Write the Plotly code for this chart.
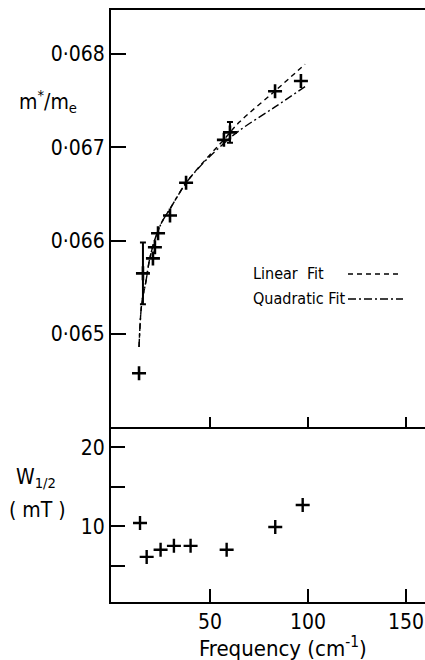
import plotly.graph_objects as go

# ---- data ----
freq_m = [13.8, 15.8, 20.9, 21.9, 23.5, 29.6, 37.8, 57.1, 60.2, 83.2, 96.4]
mass_ratio = [0.06458, 0.06565, 0.06581, 0.06593, 0.06608, 0.06627, 0.06662,
              0.06708, 0.06716, 0.06760, 0.06771]
mass_err = [0, 0.00033, 0, 0, 0, 0, 0, 0, 0.00011, 0, 0]

lin_fit_f = [13.8, 15.2, 17.2, 19.4, 22.8, 26.0, 29.6, 33.0, 37.8, 47.4, 57.0, 65.0, 83.0, 98.5]
lin_fit_m = [0.06486, 0.06533, 0.06555, 0.06582, 0.06607, 0.06622, 0.06634, 0.06646,
             0.06662, 0.06686, 0.06708, 0.06727, 0.06760, 0.06789]
quad_fit_f = [13.8, 15.2, 17.2, 19.4, 22.8, 26.0, 29.6, 33.0, 37.8, 47.4, 57.0, 65.0, 83.0, 98.5]
quad_fit_m = [0.06486, 0.06533, 0.06555, 0.06582, 0.06607, 0.06622, 0.06634, 0.06646,
              0.06662, 0.06685, 0.06704, 0.06718, 0.06743, 0.06765]

freq_w = [14.3, 17.7, 24.8, 31.6, 40.1, 58.5, 83.3, 97.3]
width_w = [10.4, 6.1, 7.0, 7.5, 7.5, 7.0, 9.9, 12.7]

m_ticks = [0.065, 0.066, 0.067, 0.068]
m_ticktext = ["0·065", "0·066", "0·067", "0·068"]
w_ticks = [5, 10, 15, 20]
w_ticktext = ["", "10", "", "20"]
x_ticks = [50, 100, 150]
x_ticktext = ["50", "100", "150"]

FONT = "DejaVu Sans Condensed, Liberation Sans Narrow, DejaVu Sans, sans-serif"
W_PX, H_PX = 425, 660
ML, MR, MT, MB = 111, 0, 10, 58
split = (602 - 427) / (H_PX - MT - MB)

fig = go.Figure()

# fits (upper panel)
fig.add_trace(go.Scatter(x=lin_fit_f, y=lin_fit_m, mode="lines", line_shape="spline",
                         line=dict(color="black", width=1.4, dash="5px,4px"),
                         xaxis="x2", yaxis="y2", showlegend=False, hoverinfo="skip"))
fig.add_trace(go.Scatter(x=quad_fit_f, y=quad_fit_m, mode="lines", line_shape="spline",
                         line=dict(color="black", width=1.4, dash="8px,3px,2px,3px"),
                         xaxis="x2", yaxis="y2", showlegend=False, hoverinfo="skip"))

# data points (upper panel)
fig.add_trace(go.Scatter(x=freq_m, y=mass_ratio, mode="markers",
                         marker=dict(symbol="cross-thin", size=10, color="black",
                                     line=dict(color="black", width=2.6)),
                         xaxis="x2", yaxis="y2", showlegend=False))
idx = [i for i, e in enumerate(mass_err) if e > 0]
fig.add_trace(go.Scatter(x=[freq_m[i] for i in idx], y=[mass_ratio[i] for i in idx],
                         mode="markers", marker=dict(size=1, color="rgba(0,0,0,0)"),
                         error_y=dict(type="data", array=[mass_err[i] for i in idx],
                                      color="black", thickness=2, width=3),
                         xaxis="x2", yaxis="y2", showlegend=False))

# lower panel
fig.add_trace(go.Scatter(x=freq_w, y=width_w, mode="markers",
                         marker=dict(symbol="cross-thin", size=10, color="black",
                                     line=dict(color="black", width=2.4)),
                         xaxis="x", yaxis="y", showlegend=False))

axis_common = dict(showline=True, linecolor="black", linewidth=2, ticks="inside",
                   tickcolor="black", tickwidth=2, showgrid=False, zeroline=False,
                   tickfont=dict(family=FONT, size=21, color="black"))

xr = [-0.5, -0.5 + (W_PX - ML - MR) / 1.96]
fig.update_layout(
    width=W_PX, height=H_PX,
    margin=dict(l=ML, r=MR, t=MT, b=MB),
    paper_bgcolor="white", plot_bgcolor="white",
    xaxis=dict(axis_common, domain=[0, 1], range=xr, anchor="y",
               tickvals=x_ticks, ticktext=x_ticktext, ticklen=13),
    yaxis=dict(axis_common, domain=[0, split], range=[0.37, 22.6], anchor="x",
               tickvals=w_ticks, ticktext=w_ticktext, ticklen=14),
    xaxis2=dict(axis_common, domain=[0, 1], range=xr, anchor="y2", mirror=True,
                tickvals=x_ticks, showticklabels=False, ticklen=10),
    yaxis2=dict(axis_common, domain=[split, 1], range=[0.064004, 0.068471], anchor="x2",
                tickvals=m_ticks, ticktext=m_ticktext, ticklen=15),
)

def px_x(p):
    return (p - ML) / (W_PX - ML - MR)

def px_y(p):
    return (H_PX - MB - p) / (H_PX - MT - MB)

def label(px, py, text, font, xanchor="center"):
    fig.add_annotation(x=px_x(px), y=px_y(py), xref="paper", yref="paper",
                       xanchor=xanchor, yanchor="middle", text=text,
                       showarrow=False, font=font)

ann_font = dict(family=FONT, size=21, color="black")
label(283, 647, "Frequency (cm<sup>-1</sup>)", dict(family=FONT, size=22, color="black"))
label(48, 101, "m<sup>*</sup>/m<sub>e</sub>", ann_font)
label(36, 478, "W<sub>1/2</sub>", ann_font)
label(37, 510, "( mT )", ann_font)

leg_font = dict(family=FONT, size=16, color="black")
label(251, 273, "Linear  Fit", leg_font, xanchor="left")
label(251, 298, "Quadratic Fit", leg_font, xanchor="left")
fig.add_shape(type="line", xref="paper", yref="paper",
              x0=px_x(348), x1=px_x(400), y0=px_y(274), y1=px_y(274),
              line=dict(color="black", width=1.4, dash="5px,4px"))
fig.add_shape(type="line", xref="paper", yref="paper",
              x0=px_x(348), x1=px_x(403), y0=px_y(299), y1=px_y(299),
              line=dict(color="black", width=1.4, dash="8px,3px,2px,3px"))

fig.write_html("out.html")
